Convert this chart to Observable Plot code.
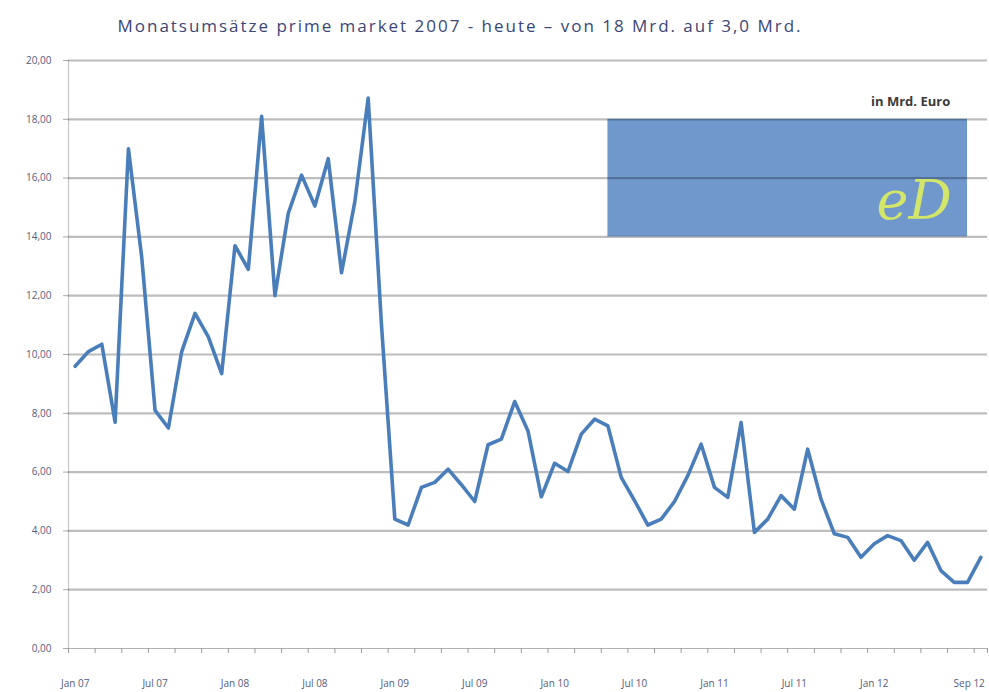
<!DOCTYPE html>
<html><head><meta charset="utf-8">
<script src="https://cdn.jsdelivr.net/npm/d3@7"></script>
<script src="https://cdn.jsdelivr.net/npm/@observablehq/plot@0.6"></script>
<style>
body{margin:0;background:#fff;}
#chart{position:relative;width:989px;height:692px;overflow:hidden;}
</style></head>
<body><div id="chart"></div>
<script>
const title = "Monatsumsätze prime market 2007 - heute – von 18 Mrd. auf 3,0 Mrd.";
const unitLabel = "in Mrd. Euro";
const logoText = "eD";
const monthNames = ["Jan","Feb","Mär","Apr","Mai","Jun","Jul","Aug","Sep","Okt","Nov","Dez"];
const years = ["07","08","09","10","11","12"];
const months = years.flatMap(y => monthNames.map(m => m + " " + y)).slice(0, 69);
const values = [
  9.6, 10.1, 10.35, 7.7, 17.0, 13.3, 8.1, 7.5, 10.1, 11.4, 10.6, 9.35,
  13.7, 12.9, 18.1, 12.0, 14.8, 16.1, 15.05, 16.66, 12.78, 15.2, 18.72, 11.0,
  4.4, 4.2, 5.48, 5.65, 6.1, 5.57, 5.0, 6.93, 7.12, 8.4, 7.4, 5.16,
  6.3, 6.02, 7.29, 7.8, 7.57, 5.82, 5.03, 4.2, 4.4, 5.0, 5.88, 6.95,
  5.48, 5.14, 7.69, 3.95, 4.4, 5.2, 4.74, 6.78, 5.08, 3.9, 3.78, 3.1,
  3.56, 3.84, 3.67, 3.0, 3.61, 2.65, 2.25, 2.25, 3.1
];
const tickLabels = ["Jan 07","Jul 07","Jan 08","Jul 08","Jan 09","Jul 09","Jan 10","Jul 10","Jan 11","Jul 11","Jan 12","Sep 12"];
const yTicks = [0,2,4,6,8,10,12,14,16,18,20];
// annotation box (month range, value range)
const boxMonths = ["Mai 10","Aug 12"];
const boxValues = [14, 18];
const logoPos = {month: "Apr 12", value: 15.2};
const unitPos = {month: "Jun 12", value: 18.6};

const idx = m => months.indexOf(m);
const labelIdx = tickLabels.map(idx);
const lastIdx = labelIdx[labelIdx.length - 1];
const minorTicks = months.map((m,i)=>i-0.5).filter((d,i)=>i%2===0).concat([months.length-0.5]);

const plot = Plot.plot({
  width: 989, height: 692,
  marginLeft: 68, marginRight: 2, marginTop: 60, marginBottom: 44,
  x: {type: "linear", domain: [-0.5, months.length - 0.5]},
  y: {domain: [0, 20]},
  style: {fontFamily: "Open Sans, sans-serif", background: "transparent"},
  marks: [
    Plot.rect([0], {x1: () => idx(boxMonths[0]), x2: () => idx(boxMonths[1]), y1: boxValues[0], y2: boxValues[1], fill: "#7098cd"}),
    Plot.ruleY(yTicks.filter(d => d > 0), {stroke: "#000", strokeOpacity: 0.26, strokeWidth: 2.2}),
    Plot.ruleY([0], {stroke: "#000", strokeOpacity: 0.3, strokeWidth: 1.2}),
    Plot.ruleX([-0.5], {stroke: "#000", strokeOpacity: 0.22, strokeWidth: 1.2}),
    Plot.axisY({ticks: yTicks, tickSize: 5, tickPadding: 12, stroke: "#aaa",
      tickFormat: d => d.toFixed(2).replace(".", ","), fill: "#565b7d", fontSize: 10, label: null}),
    Plot.axisX({ticks: minorTicks, tickSize: 5, tickFormat: () => "", stroke: "#999", label: null}),
    Plot.axisX({ticks: labelIdx.slice(0, -1), tickSize: 0, tickPadding: 31, tickFormat: i => months[i], fill: "#565b7d", fontSize: 10, label: null}),
    Plot.axisX({ticks: [lastIdx], tickSize: 0, tickPadding: 31, tickFormat: i => months[i], textAnchor: "end", dx: 4, fill: "#565b7d", fontSize: 10, label: null}),
    Plot.line(values, {x: (d, i) => i, y: d => d, stroke: "#4a7ebb", strokeWidth: 3.6, strokeLinejoin: "round"}),
    Plot.text([unitLabel], {x: idx(unitPos.month) + 0.7, y: unitPos.value, text: d => d, textAnchor: "end", fontWeight: "bold", fontSize: 13, fill: "#3a3a3a"}),
    Plot.text([logoText], {x: idx(logoPos.month), y: logoPos.value, text: d => d, fontSize: 54, fontStyle: "italic", fontFamily: "DejaVu Serif", fill: "#d3e66a"}),
    Plot.text([title], {frameAnchor: "top-left", dx: 49, dy: -41, text: d => d, textAnchor: "start", fontSize: 17, fill: "#3b4677", className: "ttl"})
  ]
});
document.getElementById("chart").appendChild(plot);
const t = plot.querySelector(".ttl text");
if (t) { t.setAttribute("textLength", 683); t.setAttribute("lengthAdjust", "spacing"); }
</script>
</body></html>
